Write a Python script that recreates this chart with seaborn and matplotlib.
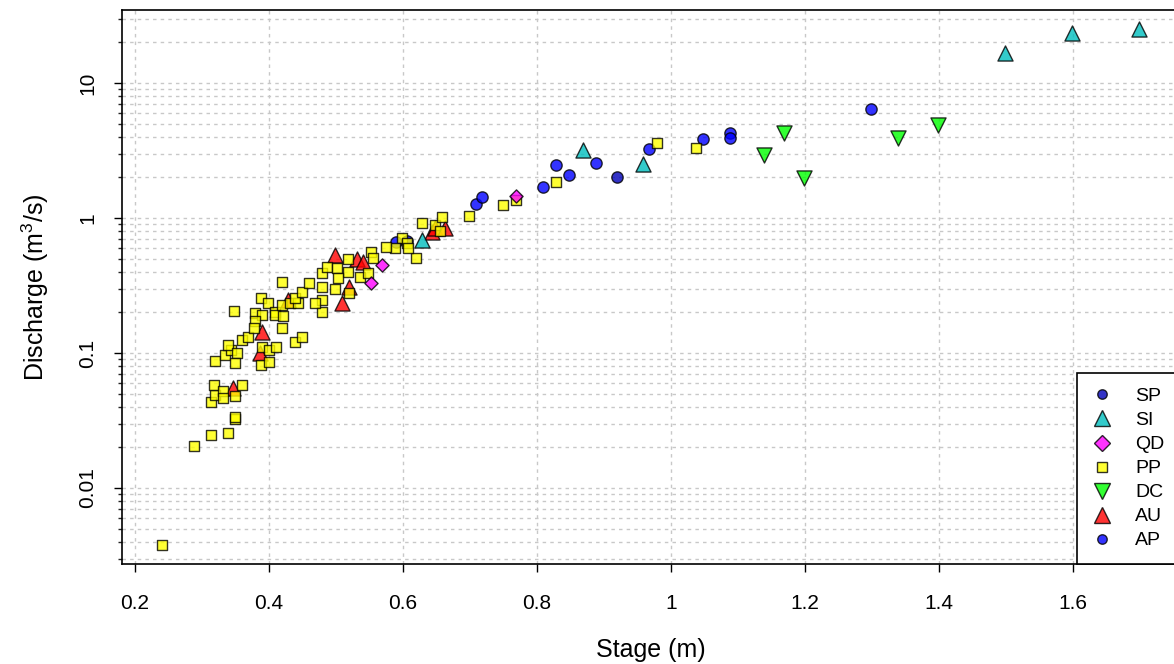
import numpy as np
import pandas as pd
import matplotlib
matplotlib.use("Agg")
import matplotlib.pyplot as plt
import seaborn as sns
from matplotlib.lines import Line2D
from matplotlib.ticker import NullFormatter

sns.set_theme(style="white")
plt.rcParams["font.family"] = ["Liberation Sans", "DejaVu Sans"]
plt.rcParams["mathtext.fontset"] = "custom"
plt.rcParams["mathtext.rm"] = "Liberation Sans"
plt.rcParams["mathtext.it"] = "Liberation Sans:italic"
plt.rcParams["mathtext.default"] = "regular"

# ---------------- data (stage m, discharge m3/s) ----------------
AP_x = [0.590, 0.606, 0.709, 0.718, 0.809, 0.828, 0.848, 0.888, 0.968, 1.048, 1.088, 1.088, 1.299]
AP_y = [0.660, 0.680, 1.28, 1.44, 1.69, 2.46, 2.08, 2.57, 3.23, 3.83, 4.28, 3.89, 6.38]

AU_x = [0.347, 0.387, 0.389, 0.429, 0.499, 0.509, 0.520, 0.531, 0.541, 0.643, 0.648, 0.663]
AU_y = [0.0548, 0.100, 0.144, 0.247, 0.532, 0.233, 0.306, 0.494, 0.475, 0.790, 0.840, 0.840]

DC_x = [1.139, 1.169, 1.199, 1.339, 1.399]
DC_y = [2.93, 4.24, 1.97, 3.89, 4.89]

PP_x = [0.240, 0.288, 0.314, 0.339, 0.349, 0.349, 0.314, 0.319, 0.318, 0.331,
        0.331, 0.349, 0.359, 0.319, 0.334, 0.344, 0.339, 0.352, 0.349, 0.359,
        0.369, 0.389, 0.400, 0.410, 0.388, 0.400, 0.419, 0.348, 0.388, 0.399,
        0.379, 0.389, 0.379, 0.377, 0.409, 0.409, 0.419, 0.421, 0.419, 0.431,
        0.444, 0.439, 0.449, 0.459, 0.479, 0.486, 0.479, 0.479, 0.479, 0.469,
        0.439, 0.449, 0.628, 0.648, 0.655, 0.598, 0.606, 0.588, 0.575, 0.619,
        0.608, 0.553, 0.556, 0.518, 0.518, 0.536, 0.548, 0.501, 0.503, 0.520,
        0.499, 0.658, 0.699, 0.749, 0.769, 0.829, 0.979, 1.038]
PP_y = [0.0038, 0.0205, 0.0247, 0.0257, 0.0323, 0.0337, 0.0431, 0.0489, 0.058, 0.0526,
        0.0467, 0.048, 0.058, 0.0877, 0.0966, 0.105, 0.115, 0.0995, 0.0839, 0.125,
        0.131, 0.111, 0.106, 0.111, 0.0815, 0.0863, 0.334, 0.205, 0.254, 0.236,
        0.197, 0.191, 0.173, 0.152, 0.202, 0.191, 0.227, 0.189, 0.154, 0.233,
        0.233, 0.254, 0.285, 0.332, 0.393, 0.436, 0.310, 0.247, 0.202, 0.236,
        0.121, 0.131, 0.923, 0.887, 0.800, 0.707, 0.656, 0.596, 0.613, 0.508,
        0.596, 0.563, 0.503, 0.494, 0.400, 0.367, 0.393, 0.424, 0.357, 0.280,
        0.296, 1.02, 1.03, 1.25, 1.36, 1.86, 3.57, 3.32]

QD_x = [0.553, 0.568, 0.769]
QD_y = [0.328, 0.449, 1.46]

SI_x = [0.629, 0.869, 0.959, 1.499, 1.599, 1.699]
SI_y = [0.690, 3.20, 2.52, 16.8, 23.6, 25.0]

SP_x = [0.919]
SP_y = [2.00]

plot_order = ["AP", "AU", "DC", "PP", "QD", "SI", "SP"]
legend_order = ["SP", "SI", "QD", "PP", "DC", "AU", "AP"]
x_ticks = [0.2, 0.4, 0.6, 0.8, 1.0, 1.2, 1.4, 1.6]
x_tick_labels = ["0.2", "0.4", "0.6", "0.8", "1", "1.2", "1.4", "1.6"]
y_ticks = [0.01, 0.1, 1, 10]
y_tick_labels = ["0.01", "0.1", "1", "10"]

xs = {"AP": AP_x, "AU": AU_x, "DC": DC_x, "PP": PP_x, "QD": QD_x, "SI": SI_x, "SP": SP_x}
ys = {"AP": AP_y, "AU": AU_y, "DC": DC_y, "PP": PP_y, "QD": QD_y, "SI": SI_y, "SP": SP_y}

df = pd.concat([pd.DataFrame({"stage": xs[k], "discharge": ys[k], "site": k}) for k in plot_order],
               ignore_index=True)

# ---------------- styles ----------------
colors = {"AP": "#0000FF", "AU": "#FF0000", "DC": "#00FF00", "PP": "#FFFF00",
          "QD": "#FF00FF", "SI": "#00BFBF", "SP": "#0000B8"}
markers = {"AP": "o", "AU": "^", "DC": "v", "PP": "s", "QD": "D", "SI": "^", "SP": "o"}
sizes = {"AP": 66, "AU": 118, "DC": 118, "PP": 58, "QD": 45, "SI": 118, "SP": 66}
leg_ms = {"AP": 6.8, "AU": 11.0, "DC": 11.0, "PP": 6.8, "QD": 8.0, "SI": 11.0, "SP": 6.8}

fig = plt.figure(figsize=(11.74, 6.64), dpi=100)
ax = fig.add_axes([0.10392, 0.1506, 0.90034, 0.8343])

for k in plot_order:
    sns.scatterplot(data=df[df["site"] == k], x="stage", y="discharge", ax=ax,
                    color=colors[k], marker=markers[k], s=sizes[k],
                    edgecolor="black", linewidth=1.0, alpha=0.8, legend=False, zorder=3)

ax.set_yscale("log")
ax.set_xticks(x_ticks, labels=x_tick_labels)
ax.set_yticks(y_ticks, labels=y_tick_labels)
minor = [m * 10.0 ** e for e in range(-3, 2) for m in range(2, 10)]
ax.set_yticks(minor, minor=True)
ax.yaxis.set_minor_formatter(NullFormatter())
for lab in ax.get_yticklabels():
    lab.set_rotation(90)
    lab.set_va("center")

ax.set_xlim(0.1806, 1.7584)
ax.set_ylim(10 ** -2.563, 10 ** 1.5407)

ax.tick_params(axis="both", which="major", direction="out", length=5.8, width=1.0,
               labelsize=15, colors="black", left=True, bottom=True)
ax.tick_params(axis="x", which="major", pad=16)
ax.tick_params(axis="y", which="major", pad=12)
ax.tick_params(axis="y", which="minor", direction="out", length=3.0, width=1.0, left=True)

grid_kw = dict(color="#C8C8C8", linestyle=(0, (2.5, 3)), linewidth=1.0)
ax.grid(True, which="both", axis="y", **grid_kw)
ax.grid(True, which="major", axis="x", **grid_kw)
ax.set_axisbelow(True)

for sp in ax.spines.values():
    sp.set_color("black")
    sp.set_linewidth(1.2)

ax.set_xlabel("Stage (m)", fontsize=18, color="black")
ax.set_ylabel(r"Discharge (m$^3$/s)", fontsize=18, color="black")
ax.xaxis.set_label_coords(0.5, -0.1336)
ax.yaxis.set_label_coords(-0.067, 0.5)

handles = [Line2D([0], [0], linestyle="None", marker=markers[k], markersize=leg_ms[k],
                  markerfacecolor=colors[k], markeredgecolor="black", markeredgewidth=1.0,
                  alpha=0.8, label=k) for k in legend_order]
leg = ax.legend(handles=handles, loc="lower right", bbox_to_anchor=(1.0, 0.0),
                borderaxespad=0.0, fontsize=14, frameon=True, fancybox=False,
                edgecolor="black", framealpha=1.0, borderpad=0.75, handlelength=1.03,
                handletextpad=1.19, labelspacing=0.33)
leg.get_frame().set_linewidth(1.2)
for t in leg.get_texts():
    t.set_color("black")

fig.savefig("out.png", dpi=100)
